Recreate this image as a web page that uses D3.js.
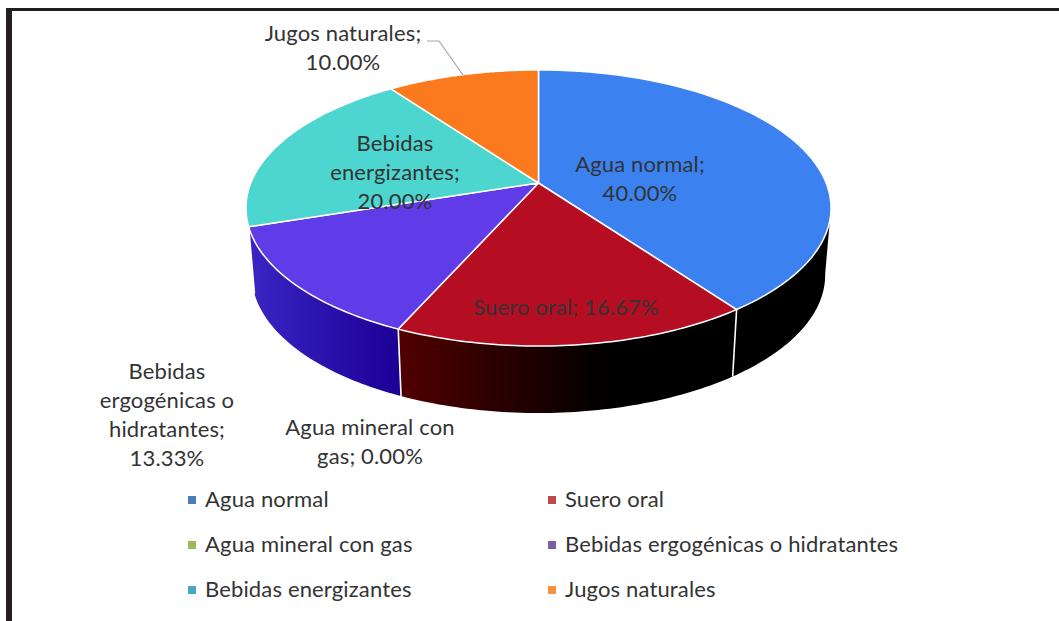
<!DOCTYPE html>
<html>
<head>
<meta charset="utf-8">
<script src="https://cdn.jsdelivr.net/npm/d3@7"></script>
<style>
html,body{margin:0;padding:0;background:#fff;overflow:hidden}
svg{display:block}
text{font-family:Lato,"Noto Sans",sans-serif;fill:#333;letter-spacing:0.15px}
</style>
</head>
<body>
<svg id="c" width="1059" height="621"></svg>
<script>
const categories = ["Agua normal","Suero oral","Agua mineral con gas","Bebidas ergogénicas o hidratantes","Bebidas energizantes","Jugos naturales"];
const values = [40.00,16.67,0.00,13.33,20.00,10.00];
const topColors = ["#3b82f0","#b50e23","#9bbb59","#5f3ce8","#4dd6d0","#fc7a1e"];
const legendColors = ["#4a7ebb","#be4b48","#9bbb59","#7d60a0","#46aac5","#f69240"];
const labelLines = [
  ["Agua normal;","40.00%"],
  ["Suero oral; 16.67%"],
  ["Agua mineral con","gas; 0.00%"],
  ["Bebidas","ergogénicas o","hidratantes;","13.33%"],
  ["Bebidas","energizantes;","20.00%"],
  ["Jugos naturales;","10.00%"]
];
const labelPos = [[640,172],[566,315],[370,435],[167,379],[395,151],[343,41]];
const sideStops = {
  0:[["#000000",0],["#000000",1]],
  1:[["#520000",0],["#000000",0.62],["#000000",1]],
  3:[["#3a25c4",0],["#1c0096",1]]
};

const W=1059,H=621,cx=538.5,cy=183;
const R=287.7,B=133.5,k=0.181,depth=67,shrink=0.98;
const svg=d3.select("#c");
svg.append("rect").attr("width",W).attr("height",H).attr("fill","#fff");

const project=(a)=>{
  const u=Math.sin(a),v=-Math.cos(a),w=1-k*v;
  return [cx+R*u/w,cy+B*v/w];
};
const bottom=(a)=>{
  const p=project(a);
  return [cx+(p[0]-cx)*shrink,p[1]+depth];
};
const line=d3.line();
const arcAngles=(a0,a1)=>d3.range(0,61).map(i=>a0+(a1-a0)*i/60);

const arcs=d3.pie().sort(null).value(d=>d)(values);
const defs=svg.append("defs");
const frontA=100*Math.PI/180,frontB=260*Math.PI/180;

// sides
arcs.forEach((d,i)=>{
  const a0=Math.max(d.startAngle,frontA),a1=Math.min(d.endAngle,frontB);
  if(a1<=a0||!sideStops[i])return;
  const as=arcAngles(a0,a1);
  const pts=as.map(project).concat(as.slice().reverse().map(bottom));
  const xs=as.map(a=>project(a)[0]);
  const id="side"+i;
  const g=defs.append("linearGradient").attr("id",id).attr("gradientUnits","userSpaceOnUse")
    .attr("y1",0).attr("y2",0).attr("x1",d3.min(xs)).attr("x2",d3.max(xs));
  sideStops[i].forEach(s=>g.append("stop").attr("offset",s[1]).attr("stop-color",s[0]));
  svg.append("path").attr("d",line(pts)+"Z").attr("fill",`url(#${id})`);
});
// vertical separators on the front wall
arcs.forEach(d=>{
  if(d.endAngle>frontA&&d.endAngle<frontB&&d.endAngle>d.startAngle){
    svg.append("path").attr("d",line([project(d.endAngle),bottom(d.endAngle)]))
      .attr("stroke","#fff").attr("stroke-width",1.6).attr("fill","none");
  }
});
// top
arcs.forEach((d,i)=>{
  if(d.endAngle<=d.startAngle)return;
  const pts=[[cx,cy]].concat(arcAngles(d.startAngle,d.endAngle).map(project));
  svg.append("path").attr("d",line(pts)+"Z").attr("fill",topColors[i])
    .attr("stroke","#fff").attr("stroke-width",1.5).attr("stroke-linejoin","round");
});
// leader
svg.append("path").attr("d",line([[427,41],[439,41],[463,75]]))
  .attr("fill","none").attr("stroke","#a6a6a6").attr("stroke-width",1.2);
// data labels
const fs=22;
labelLines.forEach((ls,i)=>{
  const t=svg.append("text").attr("text-anchor","middle").attr("font-size",fs);
  ls.forEach((s,j)=>t.append("tspan").attr("x",labelPos[i][0]).attr("y",labelPos[i][1]+j*29).text(s));
});
// legend
const lx=d3.scalePoint().domain([0,1]).range([188,548]);
const ly=d3.scalePoint().domain([0,1,2]).range([500,590]);
categories.forEach((c,i)=>{
  const col=i%2,row=Math.floor(i/2);
  svg.append("rect").attr("x",lx(col)).attr("y",ly(row)-4).attr("width",8).attr("height",8).attr("fill",legendColors[i]);
  svg.append("text").attr("x",lx(col)+17).attr("y",ly(row)+7).attr("font-size",fs).text(c);
});
// frame
svg.append("rect").attr("x",6).attr("y",8).attr("width",W-6).attr("height",3).attr("fill","#231f20");
svg.append("rect").attr("x",6).attr("y",8).attr("width",6).attr("height",H-8).attr("fill","#231f20");
</script>
</body>
</html>
